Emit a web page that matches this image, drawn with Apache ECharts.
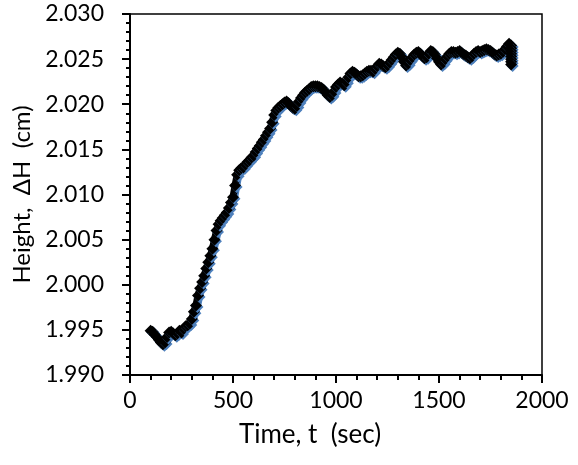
<!DOCTYPE html>
<html>
<head>
<meta charset="utf-8">
<script src="https://cdn.jsdelivr.net/npm/echarts@6/dist/echarts.min.js"></script>
<style>
  html, body { margin: 0; padding: 0; background: #fff; }
  #chart { width: 578px; height: 465px; }
</style>
</head>
<body>
<div id="chart"></div>
<script>
'use strict';
/* height vs time */

var times = [
  100, 110, 120, 130, 140, 150, 160, 170, 180, 190, 200, 210, 220, 230, 240, 250, 260, 270, 280, 290,
  300, 310, 320, 330, 340, 350, 360, 370, 380, 390, 400, 410, 420, 430, 440, 450, 460, 470, 480, 490,
  500, 510, 520, 530, 540, 550, 560, 570, 580, 590, 600, 610, 620, 630, 640, 650, 660, 670, 680, 690,
  700, 710, 720, 730, 740, 750, 760, 770, 780, 790, 800, 810, 820, 830, 840, 850, 860, 870, 880, 890,
  900, 910, 920, 930, 940, 950, 960, 970, 980, 990, 1000, 1010, 1020, 1030, 1040, 1050, 1060, 1070, 1080, 1090,
  1100, 1110, 1120, 1130, 1140, 1150, 1160, 1170, 1180, 1190, 1200, 1210, 1220, 1230, 1240, 1250, 1260, 1270, 1280, 1290,
  1300, 1310, 1320, 1330, 1340, 1350, 1360, 1370, 1380, 1390, 1400, 1410, 1420, 1430, 1440, 1450, 1460, 1470, 1480, 1490,
  1500, 1510, 1520, 1530, 1540, 1550, 1560, 1570, 1580, 1590, 1600, 1610, 1620, 1630, 1640, 1650, 1660, 1670, 1680, 1690,
  1700, 1710, 1720, 1730, 1740, 1750, 1760, 1770, 1780, 1790, 1800, 1810, 1820, 1830, 1840,
  1850, 1850, 1850, 1850, 1850, 1850, 1850, 1850
];
var heights = [
  1.9949, 1.9948, 1.9945, 1.9942, 1.9939, 1.9936, 1.9934, 1.9936, 1.9942, 1.9947, 1.9948, 1.9946, 1.9944, 1.9946, 1.9949, 1.9947, 1.9951, 1.9954, 1.9955, 1.9957,
  1.9962, 1.9970, 1.9977, 1.9988, 1.9996, 2.0003, 2.0010, 2.0018, 2.0025, 2.0032, 2.0040, 2.0050, 2.0060, 2.0067, 2.0071, 2.0074, 2.0077, 2.0080, 2.0085, 2.0091,
  2.0097, 2.0110, 2.0122, 2.0127, 2.0129, 2.0130, 2.0133, 2.0136, 2.0138, 2.0141, 2.0143, 2.0147, 2.0151, 2.0154, 2.0158, 2.0161, 2.0165, 2.0169, 2.0173, 2.0180,
  2.0188, 2.0193, 2.0196, 2.0198, 2.0200, 2.0202, 2.0203, 2.0201, 2.0198, 2.0196, 2.0195, 2.0198, 2.0203, 2.0207, 2.0210, 2.0213, 2.0215, 2.0217, 2.0219, 2.0220,
  2.0220, 2.0220, 2.0219, 2.0218, 2.0216, 2.0213, 2.0210, 2.0208, 2.0210, 2.0214, 2.0219, 2.0222, 2.0224, 2.0223, 2.0221, 2.0225, 2.0230, 2.0234, 2.0236, 2.0235,
  2.0233, 2.0231, 2.0231, 2.0232, 2.0234, 2.0236, 2.0237, 2.0237, 2.0236, 2.0239, 2.0242, 2.0245, 2.0244, 2.0242, 2.0241, 2.0243, 2.0246, 2.0249, 2.0252, 2.0255,
  2.0257, 2.0256, 2.0252, 2.0247, 2.0243, 2.0245, 2.0249, 2.0252, 2.0255, 2.0257, 2.0258, 2.0256, 2.0253, 2.0251, 2.0252, 2.0256, 2.0259, 2.0258, 2.0255, 2.0251,
  2.0247, 2.0244, 2.0246, 2.0250, 2.0253, 2.0256, 2.0258, 2.0258, 2.0257, 2.0258, 2.0259, 2.0257, 2.0255, 2.0254, 2.0252, 2.0251, 2.0253, 2.0256, 2.0258, 2.0259,
  2.0258, 2.0259, 2.0260, 2.0261, 2.0260, 2.0259, 2.0257, 2.0255, 2.0254, 2.0255, 2.0256, 2.0258, 2.0261, 2.0264, 2.0267,
  2.0265, 2.0262, 2.0259, 2.0256, 2.0253, 2.0250, 2.0247, 2.0244
];

var xTitle = 'Time, t  (sec)';
var yTitle = 'Height,  \u0394H  (cm)';

var points = [];
for (var i = 0; i < times.length; i++) {
  points.push([times[i], heights[i]]);
}

var font = 'Lato, "Open Sans", sans-serif';
var blue = '#4F81BD';
var chart = echarts.init(document.getElementById('chart'), null, { renderer: 'canvas' });

var opt = {
  animation: false,
  backgroundColor: '#fff',
  grid: {
    left: 130,
    right: 36,
    top: 14,
    bottom: 90,
    show: true,
    borderColor: '#000',
    borderWidth: 1.5
  },
  xAxis: {
    type: 'value',
    min: 0,
    max: 2000,
    interval: 500,
    name: xTitle,
    nameLocation: 'middle',
    nameGap: 47,
    nameTextStyle: { fontFamily: font, fontSize: 26, color: '#000', padding: [0, 52, 0, 0] },
    axisLine: { show: true, onZero: false, lineStyle: { color: '#000', width: 2 } },
    axisTick: { show: true, inside: false, length: 8, lineStyle: { color: '#000', width: 2 } },
    minorTick: { show: true, splitNumber: 5, length: 5, lineStyle: { color: '#000', width: 2 } },
    axisLabel: {
      fontFamily: font, fontSize: 23, color: '#000', margin: 14,
      formatter: function(v) { return String(v); }
    },
    splitLine: { show: false }
  },
  yAxis: {
    type: 'value',
    min: 1.99,
    max: 2.03,
    interval: 0.005,
    name: yTitle,
    nameLocation: 'middle',
    nameGap: 95,
    nameTextStyle: { fontFamily: font, fontSize: 24, color: '#000' },
    axisLine: { show: true, onZero: false, lineStyle: { color: '#000', width: 2 } },
    axisTick: { show: true, inside: false, length: 8, lineStyle: { color: '#000', width: 2 } },
    minorTick: { show: true, splitNumber: 5, length: 4, lineStyle: { color: '#000', width: 2 } },
    axisLabel: {
      fontFamily: font, fontSize: 23, color: '#000', margin: 26,
      formatter: function(v) { return v.toFixed(3); }
    },
    splitLine: { show: false }
  },
  series: [{
    type: 'line',
    data: points,
    symbol: 'diamond',
    symbolSize: 12,
    showAllSymbol: true,
    lineStyle: {
      color: '#000',
      width: 7,
      shadowColor: blue,
      shadowBlur: 0,
      shadowOffsetX: 1.5,
      shadowOffsetY: 1.5
    },
    itemStyle: {
      color: '#000',
      opacity: 1,
      shadowColor: blue,
      shadowBlur: 0,
      shadowOffsetX: 1.5,
      shadowOffsetY: 1.5
    }
  }]
};

chart.setOption(opt);
</script>
</body>
</html>
